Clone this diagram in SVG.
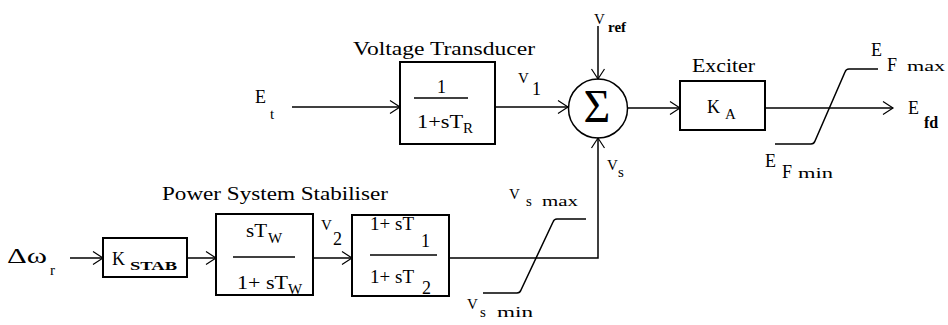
<svg xmlns="http://www.w3.org/2000/svg" width="948" height="325" viewBox="0 0 948 325">
<style>
text{font-family:"Liberation Serif","Times New Roman",serif;fill:#000}
.t{font-size:18px}
.v{font-size:15px}
.s{font-size:15px}
.b{font-weight:bold}
.box{fill:none;stroke:#000;stroke-width:2}
.ln{fill:none;stroke:#000;stroke-width:1.5}
.arr{fill:none;stroke:#000;stroke-width:1.5;marker-end:url(#ah)}
</style>
<defs>
<marker id="ah" markerUnits="userSpaceOnUse" markerWidth="14" markerHeight="16" viewBox="-11 -8 12 16" refX="0" refY="0" orient="auto">
<path d="M-10,-6.5 L0,0 L-10,6.5" fill="none" stroke="#000" stroke-width="1.2"/>
</marker>
</defs>
<rect width="948" height="325" fill="#fff"/>

<g id="connectors">
<path class="arr" d="M292,107 H400"/>
<path class="arr" d="M495,107 H568"/>
<path class="arr" d="M598,26 V79"/>
<path class="arr" d="M628,108 H680"/>
<path class="arr" d="M765,108 H893"/>
<path class="arr" d="M70,258 H103"/>
<path class="arr" d="M187,258 H216"/>
<path class="arr" d="M313,258 H352"/>
<path class="arr" d="M449,258 H598 V138"/>
</g>

<g id="input-Et">
<text class="t"><tspan x="255" y="103">E</tspan><tspan x="270" y="119" class="s">t</tspan></text>
</g>

<g id="voltage-transducer">
<text class="t" x="353" y="55" textLength="182" lengthAdjust="spacingAndGlyphs">Voltage Transducer</text>
<rect class="box" x="400" y="62" width="95" height="82"/>
<text class="t" x="437" y="93">1</text>
<line class="ln" x1="414" y1="98" x2="468" y2="98"/>
<text class="t" x="417" y="128" textLength="46" lengthAdjust="spacingAndGlyphs">1+sT</text>
<text class="s" x="463" y="133">R</text>
</g>

<g id="label-V1">
<text class="v"><tspan x="518" y="83">V</tspan><tspan x="532" y="95" class="t">1</tspan></text>
</g>

<g id="summing-junction">
<circle cx="598" cy="108.5" r="29.5" fill="none" stroke="#000" stroke-width="1.5"/>
<text x="597" y="122" text-anchor="middle" font-size="46">Σ</text>
</g>

<g id="label-Vref">
<text class="v"><tspan x="594" y="24">V</tspan><tspan x="608" y="32" class="b">ref</tspan></text>
</g>

<g id="label-Vs">
<text class="v"><tspan x="607" y="170">V</tspan><tspan x="618" y="177">s</tspan></text>
</g>

<g id="exciter">
<text class="t" x="692" y="72" textLength="63" lengthAdjust="spacingAndGlyphs">Exciter</text>
<rect class="box" x="680" y="81" width="85" height="49"/>
<text class="t" x="707" y="113">K</text>
<text class="s" x="725" y="119">A</text>
</g>

<g id="exciter-limiter">
<path class="ln" d="M775,144 H811 Q814,144 815,141 L845,72 Q846,69 849,69 H878"/>
<text class="t" x="871" y="56">E</text>
<text class="t" x="887" y="71">F</text>
<text class="v" x="907" y="71" textLength="38" lengthAdjust="spacingAndGlyphs">max</text>
<text class="t" x="765" y="167">E</text>
<text class="t" x="782" y="178">F</text>
<text class="v" x="798" y="178" textLength="35" lengthAdjust="spacingAndGlyphs">min</text>
</g>

<g id="output-Efd">
<text class="t"><tspan x="908" y="114">E</tspan><tspan x="924" y="128" class="b" font-size="16">fd</tspan></text>
</g>

<g id="input-dw">
<text font-size="22"><tspan x="7" y="263" textLength="40" lengthAdjust="spacingAndGlyphs">Δω</tspan><tspan x="50" y="275" font-size="15">r</tspan></text>
</g>

<g id="k-stab">
<rect class="box" x="103" y="238" width="84" height="39"/>
<text class="t" x="112" y="265">K</text>
<text class="b" x="130" y="270" font-size="13" textLength="47" lengthAdjust="spacingAndGlyphs">STAB</text>
</g>

<g id="pss-label">
<text class="t" x="162" y="200" textLength="226" lengthAdjust="spacingAndGlyphs">Power System Stabiliser</text>
</g>

<g id="washout">
<rect class="box" x="216" y="214" width="97" height="81"/>
<text class="t" x="246" y="237" textLength="21" lengthAdjust="spacingAndGlyphs">sT</text>
<text class="s" x="268" y="243">W</text>
<line class="ln" x1="233" y1="257" x2="295" y2="257"/>
<text class="t" x="237" y="289" textLength="51" lengthAdjust="spacingAndGlyphs">1+ sT</text>
<text class="s" x="288" y="294">W</text>
</g>

<g id="label-V2">
<text class="v"><tspan x="321" y="230">V</tspan><tspan x="333" y="245" class="t">2</tspan></text>
</g>

<g id="lead-lag">
<rect class="box" x="352" y="215" width="97" height="81"/>
<text class="t" x="370" y="230" textLength="44" lengthAdjust="spacingAndGlyphs">1+ sT</text>
<text class="t" x="421" y="247">1</text>
<line class="ln" x1="370" y1="255" x2="437" y2="255"/>
<text class="t" x="370" y="283" textLength="44" lengthAdjust="spacingAndGlyphs">1+ sT</text>
<text class="t" x="422" y="294">2</text>
</g>

<g id="stabiliser-limiter">
<path class="ln" d="M483,293 H517 Q520,293 521,290 L553,222 Q554,219 557,219 H586"/>
<text class="v" x="509" y="199">V</text>
<text class="v" x="526" y="206">s</text>
<text class="v" x="542" y="206" textLength="36" lengthAdjust="spacingAndGlyphs">max</text>
<text class="v" x="467" y="309">V</text>
<text class="v" x="480" y="317">s</text>
<text class="v" x="497" y="317" textLength="36" lengthAdjust="spacingAndGlyphs">min</text>
</g>
</svg>
